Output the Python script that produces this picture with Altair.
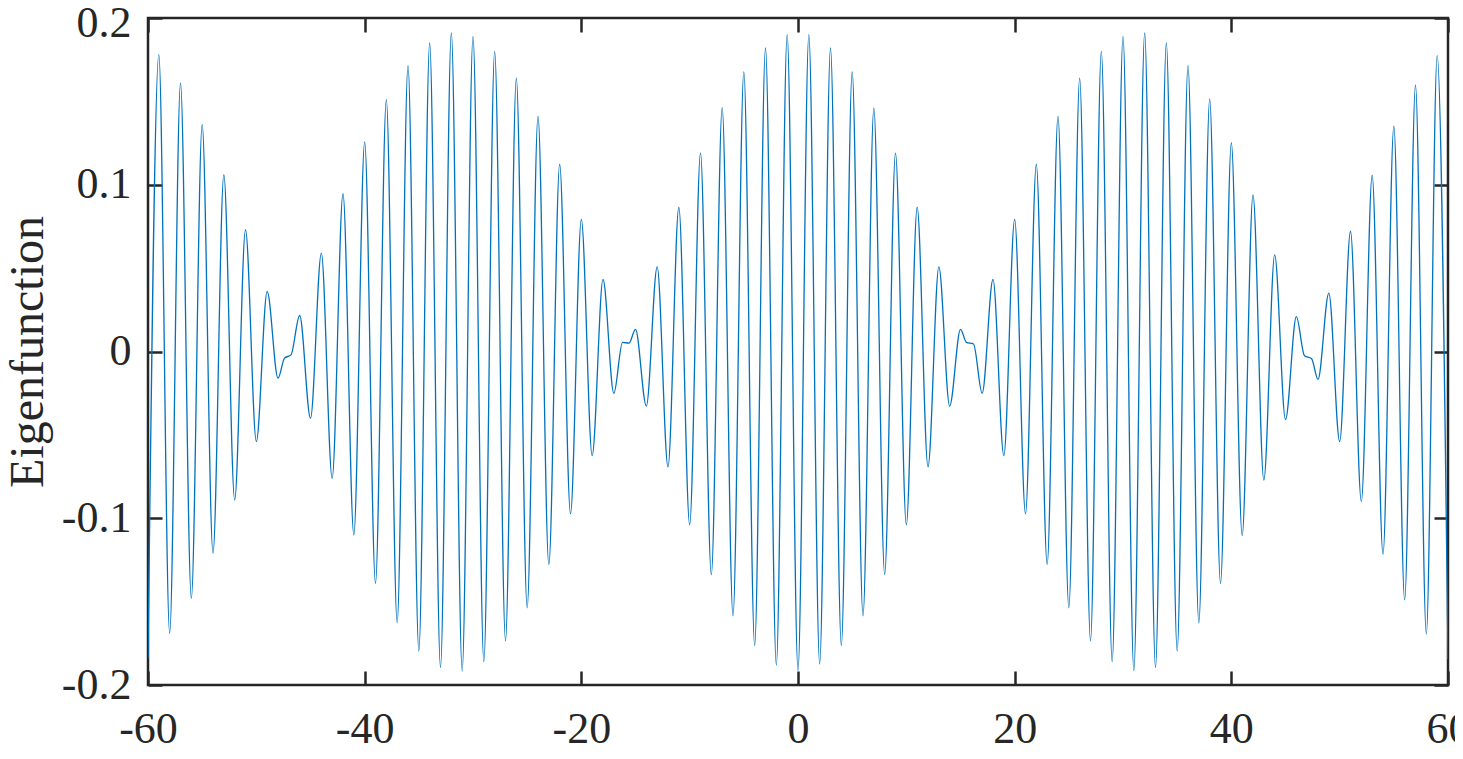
import altair as alt
import pandas as pd

# Positions (x) and values of the eigenfunction's turning points
x_pos = [
    -60, -59, -58, -57, -56, -55, -54, -53, -52, -51, -50, -49, -48,
    -47.4, -46.8, -46, -45, -44, -43, -42, -41, -40, -39, -38, -37, -36,
    -35, -34, -33, -32, -31, -30, -29, -28, -27, -26, -25, -24, -23, -22,
    -21, -20, -19, -18, -17, -16.2, -15.6, -15, -14, -13, -12, -11, -10,
    -9, -8, -7, -6, -5, -4, -3, -2, -1, 0, 1, 2, 3, 4, 5, 6, 7, 8, 9, 10,
    11, 12, 13, 14, 15, 15.55, 16.2, 17, 18, 19, 20, 21, 22, 23, 24, 25,
    26, 27, 28, 29, 30, 31, 32, 33, 34, 35, 36, 37, 38, 39, 40, 41, 42,
    43, 44, 45, 46, 46.75, 47.4, 48, 49, 50, 51, 52, 53, 54, 55, 56, 57,
    58, 59, 60,
]
eig_values = [
    -0.184, 0.178, -0.169, 0.161, -0.148, 0.136, -0.121, 0.106, -0.089,
    0.073, -0.054, 0.036, -0.016, -0.004, -0.002, 0.0216, -0.040, 0.059,
    -0.076, 0.0946, -0.110, 0.1257, -0.139, 0.151, -0.1627, 0.1714,
    -0.1796, 0.185, -0.1895, 0.191, -0.1916, 0.189, -0.186, 0.180,
    -0.1735, 0.164, -0.1537, 0.141, -0.1278, 0.1123, -0.0973, 0.0792,
    -0.0624, 0.0432, -0.0251, 0.0055, 0.005, 0.0133, -0.0327, 0.0508,
    -0.0692, 0.0865, -0.1039, 0.1191, -0.1338, 0.1462, -0.1585, 0.1677,
    -0.1763, 0.182, -0.188, 0.190, -0.1913, 0.190, -0.1874, 0.182,
    -0.1763, 0.1677, -0.1585, 0.1459, -0.1336, 0.119, -0.1039, 0.0865,
    -0.0692, 0.0508, -0.0327, 0.0133, 0.0055, 0.0045, -0.0251, 0.0432,
    -0.0624, 0.0792, -0.0973, 0.1123, -0.1278, 0.141, -0.1537, 0.164,
    -0.1735, 0.180, -0.186, 0.189, -0.1914, 0.191, -0.1895, 0.185,
    -0.1796, 0.1714, -0.1627, 0.1514, -0.139, 0.1252, -0.1104, 0.0939,
    -0.0771, 0.0579, -0.0408, 0.0209, -0.0025, -0.0042, -0.0167, 0.035,
    -0.054, 0.0721, -0.09, 0.1057, -0.1217, 0.1351, -0.149, 0.1598,
    -0.1695, 0.1774, -0.1845,
]

x_ticks = [-60, -40, -20, 0, 20, 40, 60]
y_ticks = [-0.2, -0.1, 0, 0.1, 0.2]
y_title = "Eigenfunction"

df = pd.DataFrame({"x": x_pos, "eig": eig_values})

W, H = 1300, 667
TICK = 14
FONT = "Liberation Serif"
INK = "#262626"

chart = (
    alt.Chart(df)
    .mark_line(color="#0072BD", strokeWidth=1.3, interpolate="monotone", clip=True)
    .encode(
        x=alt.X(
            "x:Q",
            scale=alt.Scale(domain=[-60, 60], nice=False, zero=False),
            axis=alt.Axis(
                values=x_ticks, title=None, ticks=False, tickSize=0, domain=False,
                grid=True, gridColor=INK, gridWidth=2.5, gridOpacity=1,
                gridDash=[TICK, H - 2 * TICK, TICK],
                labelFont=FONT, labelFontSize=44, labelColor=INK, labelPadding=22,
                labelExpr="'' + datum.value", labelFlush=False, labelOverlap=False,
            ),
        ),
        y=alt.Y(
            "eig:Q",
            scale=alt.Scale(domain=[-0.2, 0.2], nice=False, zero=False),
            axis=alt.Axis(
                values=y_ticks, title=y_title, ticks=False, tickSize=0, domain=False,
                grid=True, gridColor=INK, gridWidth=2.5, gridOpacity=1,
                gridDash=[TICK, W - 2 * TICK, TICK],
                labelFont=FONT, labelFontSize=44, labelColor=INK, labelPadding=17,
                labelOffset={"condition": {"test": "datum.value >= 0.19", "value": 5}, "value": 0},
                labelExpr="'' + datum.value", labelFlush=False, labelOverlap=False,
                titleFont=FONT, titleFontSize=48, titleFontWeight="normal",
                titleColor=INK, titleAngle=270, titleX=-106, titleY=H / 2,
                titleBaseline="alphabetic", titleAlign="center",
            ),
        ),
    )
    .properties(
        width=W, height=H,
        background="white",
        autosize=alt.AutoSizeParams(type="none"),
        padding={"left": 140, "top": 10, "right": 7, "bottom": 72},
    )
    .configure_view(stroke=INK, strokeWidth=2.5)
)

chart.save("out.html", embed_options={"renderer": "svg", "actions": False})
